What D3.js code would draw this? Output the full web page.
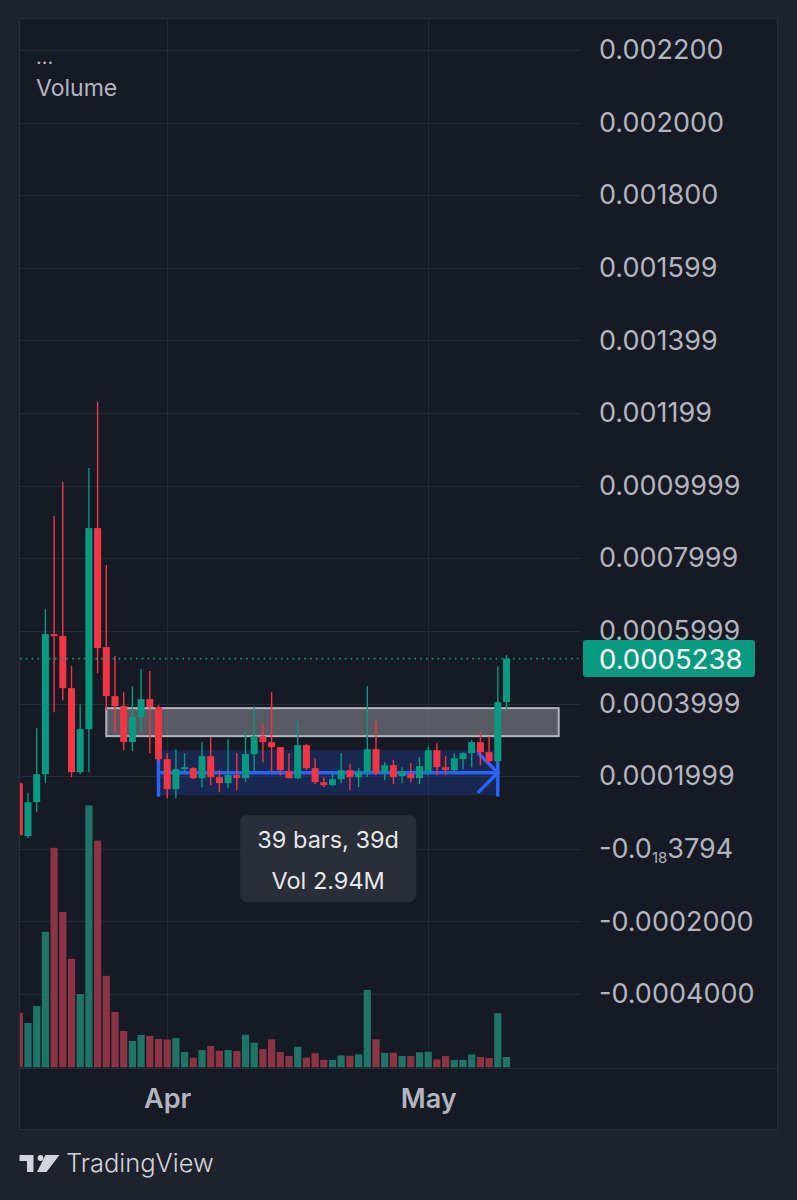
<!DOCTYPE html>
<html>
<head>
    <meta charset="utf-8">
    <script src="https://d3js.org/d3.v7.min.js"></script>
    <style>
        body { margin: 0; background: #1e222d; }
        svg { display: block; }
    </style>
</head>
<body>
<script>
    // daily candles, first one is partly hidden at the left edge
    var firstDay = "2024-03-15";

    var opens = [0.0001807, 0.0000347, 0.0001284, 0.0002055, 0.0005912, 0.0005857, 0.0004424, 0.0002110, 0.0003295, 0.0008832,
        0.0005554, 0.0004204, 0.0003928, 0.0002937, 0.0003625, 0.0004121, 0.0003901, 0.0002468, 0.0001642, 0.0002193,
        0.0002220, 0.0001945, 0.0002551, 0.0001972, 0.0001807, 0.0002028, 0.0001945, 0.0002606, 0.0003102, 0.0002937,
        0.0002799, 0.0002138, 0.0001945, 0.0002854, 0.0002220, 0.0001835, 0.0001752, 0.0001917, 0.0002165, 0.0001972,
        0.0002110, 0.0002744, 0.0002083, 0.0002303, 0.0002000, 0.0002055, 0.0001945, 0.0002110, 0.0002716, 0.0002248,
        0.0002165, 0.0002468, 0.0002634, 0.0002937, 0.0002661, 0.0002413, 0.0004039];
    var highs = [0.0002386, 0.0001532, 0.0003322, 0.0006601, 0.0009162, 0.0010099, 0.0005030, 0.0003983, 0.0010485, 0.0012303,
        0.0007813, 0.0005306, 0.0004314, 0.0004479, 0.0004948, 0.0004893, 0.0003956, 0.0002634, 0.0002744, 0.0002634,
        0.0002248, 0.0002937, 0.0003074, 0.0002165, 0.0003019, 0.0002634, 0.0003240, 0.0003928, 0.0003460, 0.0004314,
        0.0002799, 0.0002634, 0.0003515, 0.0002882, 0.0002496, 0.0001972, 0.0002083, 0.0002634, 0.0002331, 0.0002220,
        0.0004479, 0.0003515, 0.0002386, 0.0002441, 0.0002248, 0.0002358, 0.0002523, 0.0002827, 0.0002909, 0.0002551,
        0.0002634, 0.0002661, 0.0002992, 0.0003212, 0.0003102, 0.0005030, 0.0005333];
    var lows = [0.0000237, 0.0000292, 0.0001008, 0.0001807, 0.0003763, 0.0004094, 0.0001972, 0.0002055, 0.0002110, 0.0004837,
        0.0003818, 0.0003185, 0.0002716, 0.0002689, 0.0003212, 0.0002634, 0.0002386, 0.0001394, 0.0001394, 0.0002083,
        0.0001917, 0.0001697, 0.0001752, 0.0001559, 0.0001669, 0.0001614, 0.0001835, 0.0002110, 0.0002386, 0.0002110,
        0.0002028, 0.0001945, 0.0001917, 0.0002165, 0.0001780, 0.0001697, 0.0001725, 0.0001807, 0.0001614, 0.0001697,
        0.0001972, 0.0002028, 0.0001890, 0.0001780, 0.0001807, 0.0001835, 0.0001780, 0.0002028, 0.0002028, 0.0002028,
        0.0002110, 0.0002193, 0.0002248, 0.0002303, 0.0002358, 0.0002358, 0.0003818];
    var closes = [0.0000375, 0.0001284, 0.0002055, 0.0005912, 0.0005857, 0.0004424, 0.0002110, 0.0003295, 0.0008832, 0.0005526,
        0.0004204, 0.0003928, 0.0002937, 0.0003625, 0.0004121, 0.0003901, 0.0002468, 0.0001642, 0.0002193, 0.0002248,
        0.0001945, 0.0002551, 0.0001972, 0.0001807, 0.0002028, 0.0001945, 0.0002606, 0.0003102, 0.0002937, 0.0002799,
        0.0002165, 0.0001945, 0.0002854, 0.0002220, 0.0001835, 0.0001752, 0.0001917, 0.0002165, 0.0001972, 0.0002138,
        0.0002744, 0.0002083, 0.0002303, 0.0001972, 0.0002138, 0.0001945, 0.0002275, 0.0002716, 0.0002248, 0.0002165,
        0.0002496, 0.0002634, 0.0002937, 0.0002661, 0.0002413, 0.0004039, 0.0005238];
    // volume in thousands
    var volumes = [228, 185, 256, 566, 917, 649, 453, 306, 1094, 947,
        382, 231, 152, 110, 135, 131, 118, 116, 122, 64,
        40, 72, 89, 69, 72, 68, 136, 103, 76, 117,
        64, 47, 86, 40, 59, 31, 31, 50, 48, 54,
        323, 117, 60, 61, 47, 47, 63, 65, 33, 47,
        31, 31, 54, 43, 39, 226, 43];

    var yTickValues = [0.0022, 0.0020, 0.0018, 0.0016, 0.0014, 0.0012, 0.0010, 0.0008, 0.0006, 0.0004, 0.0002, 0, -0.0002, -0.0004];
    var yTickLabels = ["0.002200", "0.002000", "0.001800", "0.001599", "0.001399", "0.001199", "0.0009999",
        "0.0007999", "0.0005999", "0.0003999", "0.0001999", "-0.0|18|3794", "-0.0002000", "-0.0004000"];
    var monthTicks = ["2024-04-01", "2024-05-01"];

    // drawings: gray zone and the date range measure
    var zone = {from: "2024-03-25", to: "2024-05-16", top: 0.0003873, bottom: 0.0003102};
    var range = {from: "2024-03-31", to: "2024-05-09", top: 0.0002716, bottom: 0.0001477};
    var rangeText = ["39 bars, 39d", "Vol 2.94M"];
    var lastPrice = 0.0005238, lastLabel = "0.0005238";

    var width = 797, height = 1200,
        plotLeft = 20, plotRight = 580, plotTop = 19, plotBottom = 1068,
        paneRight = 778, paneBottom = 1130;

    var parse = d3.utcParse("%Y-%m-%d");
    var start = parse(firstDay);
    var candles = opens.map(function(o, i) {
        return {date: d3.utcDay.offset(start, i), o: o, h: highs[i], l: lows[i], c: closes[i], v: volumes[i]};
    });

    var x = d3.scaleUtc()
        .domain([parse("2024-03-16"), parse("2024-05-10")])
        .range([28, 506.5]);
    var y = d3.scaleLinear().domain([-0.0004, 0.0022]).range([994, 50]);
    var yVol = d3.scaleLinear().domain([0, 1100]).range([plotBottom - 0.7, 804]);

    var green = "#089981", red = "#f23645";

    var svg = d3.select("body").append("svg")
        .attr("width", width)
        .attr("height", height)
        .style("font-family", "Inter, 'Noto Sans', sans-serif");

    svg.append("defs").append("clipPath").attr("id", "plot")
      .append("rect").attr("x", plotLeft).attr("y", plotTop)
        .attr("width", plotRight - plotLeft).attr("height", plotBottom - plotTop);

    svg.append("rect")
        .attr("x", plotLeft - 0.5).attr("y", plotTop - 0.5)
        .attr("width", paneRight - plotLeft).attr("height", paneBottom - plotTop)
        .attr("fill", "#161a25")
        .attr("stroke", "#2a2e39");

    // grid
    svg.append("g").selectAll("line")
      .data(yTickValues)
      .enter().append("line")
        .attr("x1", plotLeft).attr("x2", plotRight)
        .attr("y1", function(d) { return Math.round(y(d)) + 0.5; })
        .attr("y2", function(d) { return Math.round(y(d)) + 0.5; })
        .attr("stroke", "#262a35");

    svg.append("g").selectAll("line")
      .data(monthTicks)
      .enter().append("line")
        .attr("x1", function(d) { return Math.round(x(parse(d))) + 0.5; })
        .attr("x2", function(d) { return Math.round(x(parse(d))) + 0.5; })
        .attr("y1", plotTop).attr("y2", plotBottom)
        .attr("stroke", "#262a35");

    svg.append("line")
        .attr("x1", plotLeft).attr("x2", paneRight)
        .attr("y1", plotBottom + 0.5).attr("y2", plotBottom + 0.5)
        .attr("stroke", "#2a2e39");

    var plot = svg.append("g").attr("clip-path", "url(#plot)");

    // volume overlay
    plot.append("g").selectAll("rect")
      .data(candles)
      .enter().append("rect")
        .attr("x", function(d) { return x(d.date) - 3.6; })
        .attr("width", 7.2)
        .attr("y", function(d) { return yVol(d.v); })
        .attr("height", function(d) { return yVol(0) - yVol(d.v); })
        .attr("fill", function(d) { return d.c >= d.o ? "#1e7467" : "#8a3444"; });

    // gray zone
    plot.append("rect")
        .attr("x", x(parse(zone.from)))
        .attr("y", y(zone.top))
        .attr("width", x(parse(zone.to)) - x(parse(zone.from)))
        .attr("height", y(zone.bottom) - y(zone.top))
        .attr("fill", "#8f9199")
        .attr("fill-opacity", 0.55)
        .attr("stroke", "#b2b5be")
        .attr("stroke-width", 2);

    // date range measure
    var rx0 = x(parse(range.from)), rx1 = x(parse(range.to)),
        ry0 = y(range.top), ry1 = y(range.bottom), rmid = (ry0 + ry1) / 2;
    plot.append("rect")
        .attr("x", rx0).attr("y", ry0)
        .attr("width", rx1 - rx0).attr("height", ry1 - ry0)
        .attr("fill", "#2962ff").attr("fill-opacity", 0.2);
    var blue = plot.append("g")
        .attr("stroke", "#2962ff").attr("stroke-width", 3.5)
        .attr("stroke-linecap", "round").attr("fill", "none");
    blue.append("line").attr("x1", rx0).attr("x2", rx0).attr("y1", ry0).attr("y2", ry1);
    blue.append("line").attr("x1", rx1).attr("x2", rx1).attr("y1", ry0 + 12).attr("y2", ry1);
    blue.append("line").attr("x1", rx0).attr("x2", rx1).attr("y1", rmid).attr("y2", rmid);
    blue.append("path").attr("d", "M" + (rx1 - 19) + "," + (rmid - 19) + "L" + rx1 + "," + rmid + "L" + (rx1 - 19) + "," + (rmid + 19));

    // candles
    var candle = plot.append("g").selectAll("g")
      .data(candles)
      .enter().append("g")
        .attr("fill", function(d) { return d.c >= d.o ? green : red; })
        .attr("stroke", function(d) { return d.c >= d.o ? green : red; });

    candle.append("line")
        .attr("x1", function(d) { return x(d.date); })
        .attr("x2", function(d) { return x(d.date); })
        .attr("y1", function(d) { return y(d.h); })
        .attr("y2", function(d) { return y(d.l); })
        .attr("stroke-width", 1.4);

    candle.append("rect")
        .attr("stroke", "none")
        .attr("x", function(d) { return x(d.date) - 3.5; })
        .attr("width", 7)
        .attr("y", function(d) { return y(Math.max(d.o, d.c)); })
        .attr("height", function(d) { return Math.max(1.5, Math.abs(y(d.o) - y(d.c))); });

    // last price line
    plot.append("line")
        .attr("x1", plotLeft).attr("x2", plotRight)
        .attr("y1", y(lastPrice)).attr("y2", y(lastPrice))
        .attr("stroke", green).attr("stroke-width", 1.6)
        .attr("stroke-dasharray", "1.6,4.2");

    // measure tooltip
    var tipW = 176, tipH = 87, tipX = (rx0 + rx1) / 2 - tipW / 2, tipY = ry1 + 20;
    svg.append("rect")
        .attr("x", tipX).attr("y", tipY)
        .attr("width", tipW).attr("height", tipH)
        .attr("rx", 7)
        .attr("fill", "#2a2e39");
    svg.append("g").selectAll("text")
      .data(rangeText)
      .enter().append("text")
        .attr("x", tipX + tipW / 2)
        .attr("y", function(d, i) { return tipY + 33 + i * 41; })
        .attr("text-anchor", "middle")
        .attr("fill", "#e6e7ea")
        .attr("font-size", 23.5)
        .text(function(d) { return d; });

    // price axis
    var yAxis = svg.append("g")
        .attr("transform", "translate(" + plotRight + ",0)")
        .call(d3.axisRight(y).tickValues(yTickValues).tickSize(0).tickPadding(19)
            .tickFormat(function(d, i) { return yTickLabels[i]; }));
    yAxis.select(".domain").remove();
    yAxis.selectAll("text")
        .attr("fill", "#b2b5be")
        .attr("font-size", 27)
        .attr("font-family", "Inter, 'Noto Sans', sans-serif")
        .each(function(d, i) {
            var parts = yTickLabels[i].split("|");
            if (parts.length < 3) return;
            var t = d3.select(this).text("");
            t.append("tspan").text(parts[0]);
            t.append("tspan").attr("font-size", 15).attr("dy", 5).text(parts[1]);
            t.append("tspan").attr("dy", -5).text(parts[2]);
        });

    // last price tag sits over the nearest tick label, as in the app
    svg.append("rect")
        .attr("x", 583).attr("y", y(lastPrice) - 18.5)
        .attr("width", 172).attr("height", 37)
        .attr("rx", 3)
        .attr("fill", green);
    svg.append("text")
        .attr("x", 599).attr("y", y(lastPrice) + 10)
        .attr("fill", "#ffffff")
        .attr("font-size", 27.5)
        .text(lastLabel);

    // time axis
    var xAxis = svg.append("g")
        .attr("transform", "translate(0," + plotBottom + ")")
        .call(d3.axisBottom(x).tickValues(monthTicks.map(parse)).tickSize(0).tickPadding(21)
            .tickFormat(d3.utcFormat("%b")));
    xAxis.select(".domain").remove();
    xAxis.selectAll("text")
        .attr("fill", "#b2b5be")
        .attr("font-size", 27)
        .attr("font-weight", 600)
        .attr("font-family", "Inter, 'Noto Sans', sans-serif");

    // legend
    svg.append("text").attr("x", 36).attr("y", 64)
        .attr("fill", "#b2b5be").attr("font-size", 20).text("...");
    svg.append("text").attr("x", 36).attr("y", 96)
        .attr("fill", "#b2b5be").attr("font-size", 23).text("Volume");

    // logo
    var logo = svg.append("g").attr("fill", "#d1d4dc");
    logo.append("path").attr("d", "M19.5,1155H33.5V1172H27V1161H19.5Z");
    logo.append("circle").attr("cx", 40.5).attr("cy", 1158).attr("r", 2.9);
    logo.append("path").attr("d", "M45.5,1155H59.5L46.5,1172H37Z");
    logo.append("text").attr("x", 66).attr("y", 1172)
        .attr("font-size", 25.5).attr("font-weight", 300)
        .text("TradingView");
</script>
</body>
</html>
